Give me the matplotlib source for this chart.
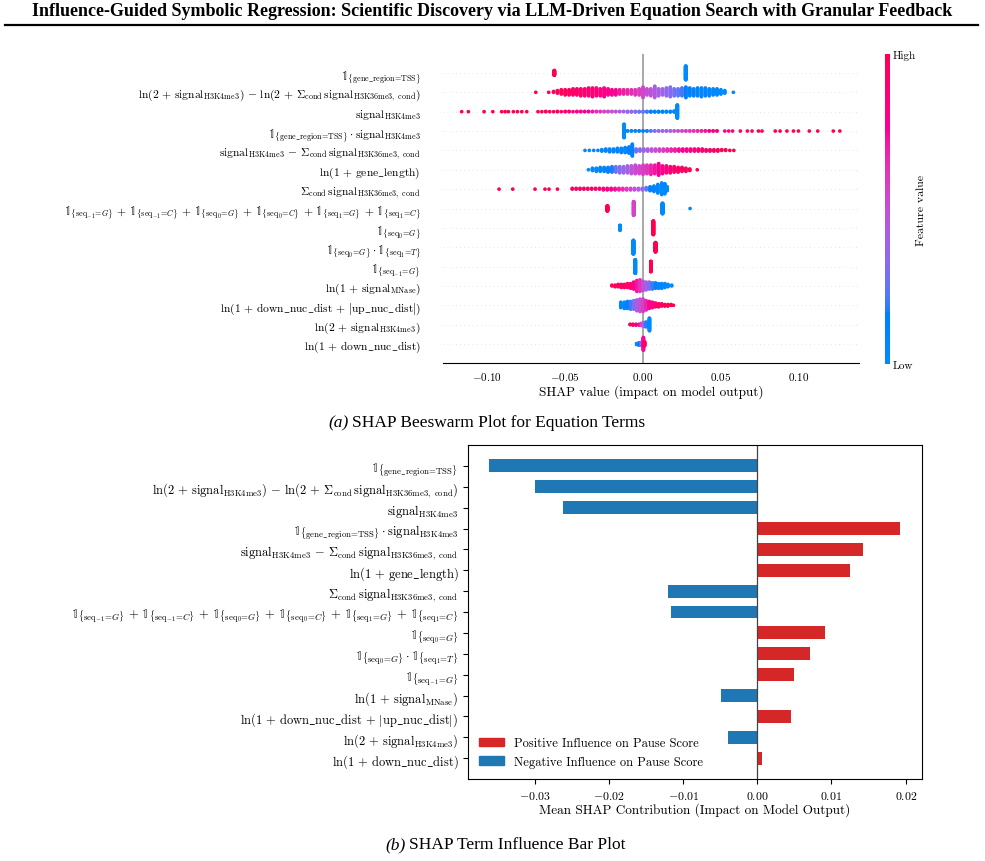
import numpy as np
import matplotlib
matplotlib.use('Agg')
import matplotlib.pyplot as plt
from matplotlib.colors import LinearSegmentedColormap
from matplotlib.lines import Line2D

plt.rcParams['font.family'] = 'serif'
plt.rcParams['font.serif'] = ['cmr10']
plt.rcParams['mathtext.fontset'] = 'cm'
plt.rcParams['axes.formatter.use_mathtext'] = True

# ---- data -------------------------------------------------------------
terms = [
    r'$\mathbb{1}_{\{\mathrm{gene\_region}\!=\!\mathrm{TSS}\}}$',
    r'$\ln(2\,+\,\mathrm{signal}_{\mathrm{H3K4me3}})\,-\,\ln(2\,+\,\Sigma_{\mathrm{cond}}\,\mathrm{signal}_{\mathrm{H3K36me3,\ cond}})$',
    r'$\mathrm{signal}_{\mathrm{H3K4me3}}$',
    r'$\mathbb{1}_{\{\mathrm{gene\_region}\!=\!\mathrm{TSS}\}}\cdot\mathrm{signal}_{\mathrm{H3K4me3}}$',
    r'$\mathrm{signal}_{\mathrm{H3K4me3}}\,-\,\Sigma_{\mathrm{cond}}\,\mathrm{signal}_{\mathrm{H3K36me3,\ cond}}$',
    r'$\ln(1\,+\,\mathrm{gene\_length})$',
    r'$\Sigma_{\mathrm{cond}}\,\mathrm{signal}_{\mathrm{H3K36me3,\ cond}}$',
    r'$\mathbb{1}_{\{\mathrm{seq}_{-1}\!=\!G\}}\,+\,\mathbb{1}_{\{\mathrm{seq}_{-1}\!=\!C\}}\,+\,\mathbb{1}_{\{\mathrm{seq}_0\!=\!G\}}\,+\,\mathbb{1}_{\{\mathrm{seq}_0\!=\!C\}}\,+\,\mathbb{1}_{\{\mathrm{seq}_1\!=\!G\}}\,+\,\mathbb{1}_{\{\mathrm{seq}_1\!=\!C\}}$',
    r'$\mathbb{1}_{\{\mathrm{seq}_0\!=\!G\}}$',
    r'$\mathbb{1}_{\{\mathrm{seq}_0\!=\!G\}}\cdot\mathbb{1}_{\{\mathrm{seq}_1\!=\!T\}}$',
    r'$\mathbb{1}_{\{\mathrm{seq}_{-1}\!=\!G\}}$',
    r'$\ln(1\,+\,\mathrm{signal}_{\mathrm{MNase}})$',
    r'$\ln(1\,+\,\mathrm{down\_nuc\_dist}\,+\,|\mathrm{up\_nuc\_dist}|)$',
    r'$\ln(2\,+\,\mathrm{signal}_{\mathrm{H3K4me3}})$',
    r'$\ln(1\,+\,\mathrm{down\_nuc\_dist})$',
]

# mean SHAP contribution per term (bar plot)
bar_contrib = [-0.0362, -0.0300, -0.0262, 0.0193, 0.0142, 0.0125, -0.0121,
               -0.0117, 0.0091, 0.0071, 0.0049, -0.0049, 0.0046, -0.0039, 0.0006]

# beeswarm rows: (shap value, number of samples, scaled feature value)
swarm_tss = [(-0.0570, 36, 1.0), (0.0274, 100, 0.0)]

swarm_log_ratio = [
    (-0.0689, 1, 1.0), (-0.0606, 1, 0.97),
    (-0.0575, 2, 0.95), (-0.0550, 4, 0.95), (-0.0525, 6, 0.95), (-0.0500, 7, 0.95),
    (-0.0475, 7, 0.94), (-0.0450, 8, 0.93), (-0.0425, 8, 0.92), (-0.0400, 9, 0.91),
    (-0.0375, 9, 0.90), (-0.0350, 10, 0.89), (-0.0325, 11, 0.88), (-0.0300, 10, 0.86),
    (-0.0275, 9, 0.84), (-0.0250, 11, 0.82), (-0.0225, 8, 0.80), (-0.0200, 7, 0.78),
    (-0.0175, 7, 0.75), (-0.0150, 6, 0.72), (-0.0125, 6, 0.70), (-0.0100, 6, 0.68),
    (-0.0075, 6, 0.65), (-0.0050, 7, 0.62), (-0.0025, 8, 0.58), (0.0000, 13, 0.55),
    (0.0025, 8, 0.50), (0.0050, 9, 0.47), (0.0075, 14, 0.44), (0.0100, 9, 0.41),
    (0.0125, 8, 0.38), (0.0150, 10, 0.35), (0.0175, 12, 0.32), (0.0200, 9, 0.28),
    (0.0225, 9, 0.25), (0.0250, 10, 0.20), (0.0275, 13, 0.16), (0.0300, 10, 0.12),
    (0.0325, 9, 0.10), (0.0350, 10, 0.08), (0.0375, 11, 0.06), (0.0400, 10, 0.05),
    (0.0425, 9, 0.04), (0.0450, 8, 0.03), (0.0475, 8, 0.02), (0.0500, 6, 0.02),
    (0.0525, 4, 0.01), (0.0580, 1, 0.0)]

swarm_signal = [
    (-0.1165, 1, 1.0), (-0.1122, 1, 1.0), (-0.1021, 1, 1.0), (-0.0965, 1, 1.0),
    (-0.0908, 1, 1.0), (-0.0886, 1, 1.0), (-0.0865, 1, 1.0), (-0.0833, 1, 1.0),
    (-0.0807, 1, 1.0), (-0.0779, 1, 1.0), (-0.0747, 1, 1.0),
    (-0.0675, 1, 0.97), (-0.0650, 1, 0.96), (-0.0625, 2, 0.95), (-0.0600, 1, 0.95),
    (-0.0575, 1, 0.94), (-0.0550, 2, 0.93), (-0.0525, 1, 0.92), (-0.0500, 2, 0.90),
    (-0.0475, 2, 0.86), (-0.0450, 1, 0.84), (-0.0425, 2, 0.82), (-0.0400, 2, 0.80),
    (-0.0375, 2, 0.78), (-0.0350, 2, 0.76), (-0.0325, 2, 0.72), (-0.0300, 2, 0.66),
    (-0.0275, 2, 0.62), (-0.0250, 2, 0.58), (-0.0225, 2, 0.54), (-0.0200, 2, 0.50),
    (-0.0175, 2, 0.46), (-0.0150, 2, 0.43), (-0.0125, 2, 0.40), (-0.0100, 3, 0.37),
    (-0.0075, 3, 0.34), (-0.0050, 3, 0.31), (-0.0025, 3, 0.28), (0.0000, 3, 0.25),
    (0.0025, 3, 0.20), (0.0050, 3, 0.16), (0.0075, 3, 0.12), (0.0100, 3, 0.10),
    (0.0125, 3, 0.08), (0.0150, 3, 0.06), (0.0175, 3, 0.05), (0.0200, 4, 0.04),
    (0.0220, 50, 0.02)]

swarm_tss_signal = [
    (-0.0122, 60, 0.0),
    (-0.0100, 2, 0.05), (-0.0075, 2, 0.06), (-0.0050, 2, 0.08), (-0.0025, 2, 0.10),
    (0.0000, 2, 0.13), (0.0025, 2, 0.17), (0.0050, 2, 0.22), (0.0075, 2, 0.30),
    (0.0100, 2, 0.33), (0.0125, 2, 0.36), (0.0150, 2, 0.39), (0.0175, 2, 0.42),
    (0.0200, 2, 0.45), (0.0225, 2, 0.50), (0.0250, 2, 0.54), (0.0275, 2, 0.58),
    (0.0300, 2, 0.61), (0.0325, 2, 0.64), (0.0350, 2, 0.67), (0.0375, 2, 0.70),
    (0.0400, 2, 0.73), (0.0425, 2, 0.76), (0.0450, 2, 0.79), (0.0475, 2, 0.82),
    (0.0525, 1, 0.85), (0.0550, 1, 0.87), (0.0575, 1, 0.89), (0.0625, 1, 0.92),
    (0.0670, 1, 0.94), (0.0700, 1, 0.96), (0.0741, 1, 1.0), (0.0764, 1, 1.0),
    (0.0849, 1, 1.0), (0.0880, 1, 1.0), (0.0924, 1, 1.0), (0.0966, 1, 1.0),
    (0.0998, 1, 1.0), (0.1068, 1, 1.0), (0.1122, 1, 1.0), (0.1222, 1, 1.0),
    (0.1264, 1, 1.0)]

swarm_signal_diff = [
    (-0.0373, 1, 0.05), (-0.0345, 1, 0.05), (-0.0317, 1, 0.05), (-0.0290, 1, 0.05),
    (-0.0265, 3, 0.05), (-0.0240, 4, 0.05), (-0.0215, 5, 0.06), (-0.0190, 5, 0.06),
    (-0.0165, 6, 0.07), (-0.0140, 7, 0.08), (-0.0115, 8, 0.09), (-0.0090, 10, 0.10),
    (-0.0069, 18, 0.12),
    (-0.0045, 5, 0.28), (-0.0020, 4, 0.33), (0.0005, 4, 0.38), (0.0030, 4, 0.43),
    (0.0055, 4, 0.48), (0.0080, 4, 0.52), (0.0105, 4, 0.56), (0.0130, 4, 0.60),
    (0.0155, 4, 0.64), (0.0180, 4, 0.68), (0.0205, 4, 0.71), (0.0230, 4, 0.74),
    (0.0255, 4, 0.77), (0.0280, 4, 0.80), (0.0305, 4, 0.83), (0.0330, 4, 0.86),
    (0.0355, 4, 0.88), (0.0380, 4, 0.90), (0.0405, 3, 0.92), (0.0430, 3, 0.93),
    (0.0455, 3, 0.95), (0.0480, 3, 0.96), (0.0505, 2, 0.97), (0.0530, 2, 0.98),
    (0.0557, 1, 1.0), (0.0583, 1, 1.0)]

swarm_gene_length = [
    (-0.0351, 1, 0.03),
    (-0.0325, 4, 0.05), (-0.0300, 5, 0.06), (-0.0275, 6, 0.08), (-0.0250, 6, 0.10),
    (-0.0225, 7, 0.13), (-0.0200, 8, 0.17), (-0.0175, 8, 0.28), (-0.0150, 9, 0.32),
    (-0.0125, 9, 0.36), (-0.0100, 10, 0.40), (-0.0075, 11, 0.48), (-0.0050, 12, 0.52),
    (-0.0025, 11, 0.55), (0.0000, 13, 0.58), (0.0025, 12, 0.61), (0.0050, 13, 0.68),
    (0.0075, 12, 0.72), (0.0100, 16, 0.76), (0.0125, 11, 0.80), (0.0150, 10, 0.84),
    (0.0175, 9, 0.88), (0.0200, 8, 0.91), (0.0225, 7, 0.93), (0.0250, 6, 0.95),
    (0.0275, 5, 0.96), (0.0300, 3, 0.98), (0.0348, 1, 1.0)]

swarm_k36_sum = [
    (-0.0925, 1, 1.0), (-0.0837, 1, 1.0), (-0.0694, 1, 1.0), (-0.0630, 1, 1.0),
    (-0.0604, 1, 1.0), (-0.0550, 1, 1.0),
    (-0.0455, 2, 0.97), (-0.0430, 2, 0.96), (-0.0405, 2, 0.95), (-0.0380, 2, 0.94),
    (-0.0355, 2, 0.93), (-0.0330, 2, 0.92), (-0.0305, 2, 0.90), (-0.0280, 2, 0.88),
    (-0.0255, 3, 0.84), (-0.0230, 3, 0.80), (-0.0205, 3, 0.77), (-0.0180, 3, 0.74),
    (-0.0155, 3, 0.70), (-0.0130, 3, 0.66), (-0.0105, 3, 0.60), (-0.0080, 3, 0.55),
    (-0.0055, 3, 0.50), (-0.0030, 3, 0.42), (-0.0005, 3, 0.35), (0.0020, 4, 0.25),
    (0.0045, 6, 0.15), (0.0070, 8, 0.10), (0.0095, 12, 0.06), (0.0120, 16, 0.04),
    (0.0140, 14, 0.03), (0.0155, 6, 0.02)]

swarm_seq_sum = [(-0.0229, 38, 1.0), (-0.0060, 100, 0.55), (0.0125, 77, 0.02),
                 (0.0302, 1, 0.0)]
swarm_seq0_g = [(-0.0148, 36, 0.0), (0.0066, 100, 1.0)]
swarm_seq0_g_seq1_t = [(-0.0062, 100, 0.0), (0.0080, 69, 1.0)]
swarm_seqm1_g = [(-0.0050, 100, 0.0), (0.0050, 76, 1.0)]

swarm_mnase = [
    (-0.0200, 2, 1.0), (-0.0180, 3, 0.98), (-0.0160, 4, 0.96), (-0.0140, 5, 0.94),
    (-0.0120, 5, 0.93), (-0.0100, 6, 0.91), (-0.0080, 7, 0.86), (-0.0060, 10, 0.80),
    (-0.0040, 15, 0.72), (-0.0020, 16, 0.62), (0.0000, 13, 0.50), (0.0020, 11, 0.40),
    (0.0040, 10, 0.30), (0.0060, 9, 0.20), (0.0080, 8, 0.12), (0.0100, 7, 0.08),
    (0.0120, 7, 0.05), (0.0140, 6, 0.04), (0.0160, 4, 0.03), (0.0184, 2, 0.02)]

swarm_nuc_sum = [
    (-0.0143, 8, 0.05), (-0.0120, 9, 0.08), (-0.0100, 10, 0.12), (-0.0080, 11, 0.20),
    (-0.0060, 12, 0.30), (-0.0040, 15, 0.42), (-0.0020, 17, 0.50), (0.0000, 17, 0.58),
    (0.0020, 13, 0.68), (0.0040, 10, 0.75), (0.0060, 8, 0.82), (0.0080, 6, 0.88),
    (0.0100, 5, 0.92), (0.0120, 4, 0.95), (0.0140, 3, 0.97), (0.0160, 3, 1.0),
    (0.0180, 2, 1.0), (0.0195, 1, 1.0)]

swarm_log_signal = [
    (-0.0083, 2, 1.0), (-0.0065, 3, 0.95), (-0.0045, 3, 0.88), (-0.0025, 3, 0.75),
    (-0.0010, 6, 0.55), (0.0005, 10, 0.38), (0.0020, 12, 0.18), (0.0041, 30, 0.02)]

swarm_down_dist = [
    (-0.0041, 3, 0.05), (-0.0030, 5, 0.08), (-0.0020, 6, 0.15), (-0.0010, 8, 0.35),
    (0.0002, 30, 0.75), (0.0010, 10, 0.95)]

swarm_rows = [swarm_tss, swarm_log_ratio, swarm_signal, swarm_tss_signal,
              swarm_signal_diff, swarm_gene_length, swarm_k36_sum, swarm_seq_sum,
              swarm_seq0_g, swarm_seq0_g_seq1_t, swarm_seqm1_g, swarm_mnase,
              swarm_nuc_sum, swarm_log_signal, swarm_down_dist]


# ---- shap style red/blue colormap (LCh interpolation) ------------------
def lch2rgb(L, C, h):
    a, b = C * np.cos(h), C * np.sin(h)
    fy = (L + 16) / 116
    fx, fz = fy + a / 500, fy - b / 200

    def finv(t):
        return t ** 3 if t ** 3 > 0.008856 else (t - 16 / 116) / 7.787
    X, Y, Z = 0.95047 * finv(fx), finv(fy), 1.08883 * finv(fz)
    rgb = np.array([3.2406 * X - 1.5372 * Y - 0.4986 * Z,
                    -0.9689 * X + 1.8758 * Y + 0.0415 * Z,
                    0.0557 * X - 0.2040 * Y + 1.0570 * Z])
    rgb = np.where(rgb <= 0.0031308, 12.92 * rgb,
                   1.055 * np.abs(rgb) ** (1 / 2.4) - 0.055)
    return np.clip(rgb, 0, 1)


blue_lch = (54., 70., 4.6588)
red_lch = (54., 90., 0.35470565 + 2 * np.pi)
steps = np.linspace(0, 1, 100)
cols = [lch2rgb(*(np.array(blue_lch) + t * (np.array(red_lch) - np.array(blue_lch))))
        for t in steps]
red_blue = LinearSegmentedColormap.from_list('red_blue', list(zip(steps, cols)))


def swarm_offsets(shaps, row_height=0.4):
    # same stacking rule as shap's beeswarm
    quant = np.round(100 * (shaps - shaps.min()) / (shaps.max() - shaps.min() + 1e-8))
    inds = np.argsort(quant, kind='stable')
    ys = np.zeros(len(shaps))
    layer, last = 0, -1
    for ind in inds:
        if quant[ind] != last:
            layer = 0
        ys[ind] = np.ceil(layer / 2) * ((layer % 2) * 2 - 1)
        layer += 1
        last = quant[ind]
    return ys * 0.9 * (row_height / np.max(ys + 1))


W, H = 985, 862
fig = plt.figure(figsize=(W / 100, H / 100), dpi=100)


def fx(px):
    return px / W


def fy(py):
    return 1 - py / H


# title + rule
fig.text(0.5, fy(12), 'Influence-Guided Symbolic Regression: Scientific Discovery via '
         'LLM-Driven Equation Search with Granular Feedback',
         ha='center', va='center', family='Liberation Serif', weight='bold', fontsize=13)
fig.add_artist(Line2D([fx(5), fx(978)], [fy(25.5), fy(25.5)], color='k', lw=1.6))

# ---- (a) beeswarm -----------------------------------------------------
n = len(terms)
ax1 = fig.add_axes([fx(443), fy(364.4), fx(859 - 443), (364.4 - 54.6) / H])
for i, row in enumerate(swarm_rows):
    pos = n - 1 - i
    ax1.axhline(pos, color='#cccccc', lw=0.5, dashes=(1, 5), zorder=-1)
    sv = np.repeat([r[0] for r in row], [r[1] for r in row])
    fv = np.repeat([r[2] for r in row], [r[1] for r in row])
    ys = swarm_offsets(sv)
    ax1.scatter(sv, pos + ys, c=fv, cmap=red_blue, vmin=0, vmax=1, s=7,
                linewidth=0, zorder=3, rasterized=True)
ax1.axvline(0, color='#999999', lw=1.2, zorder=-1)
ax1.set_ylim(-1, n)
ax1.set_xlim(-0.1285, 0.1387)
ax1.set_yticks(range(n))
ax1.set_yticklabels(terms[::-1], fontsize=8.3)
ax1.tick_params('y', length=0, pad=16)
ax1.tick_params('x', length=0, pad=5, labelsize=8)
ax1.set_xticks([-0.10, -0.05, 0.0, 0.05, 0.10])
for s in ['top', 'right', 'left']:
    ax1.spines[s].set_visible(False)
ax1.set_xlabel('SHAP value (impact on model output)', fontsize=9.5, labelpad=1)

cax = fig.add_axes([fx(885), fy(365), fx(5), (365 - 55) / H])
sm = plt.cm.ScalarMappable(cmap=red_blue, norm=plt.Normalize(0, 1))
cb = fig.colorbar(sm, cax=cax, ticks=[0, 1])
cb.set_ticklabels(['Low', 'High'])
cb.ax.tick_params(labelsize=8, length=0, pad=2)
cb.set_label('Feature value', fontsize=8.5, labelpad=0)
cb.outline.set_visible(False)

fig.text(fx(328), fy(423), '(a)', style='italic', family='Liberation Serif',
         fontsize=12.5, va='center', ha='left')
fig.text(fx(352), fy(423), 'SHAP Beeswarm Plot for Equation Terms',
         family='Liberation Serif', fontsize=12.5, va='center', ha='left')

# ---- (b) bar plot -----------------------------------------------------
ax2 = fig.add_axes([fx(468), fy(780), fx(922 - 468), (780 - 446) / H])
colors = ['#d62728' if v > 0 else '#1f77b4' for v in bar_contrib]
ax2.barh(range(n), bar_contrib, height=0.62, color=colors)
ax2.axvline(0, color='#444444', lw=0.9)
ax2.set_yticks(range(n))
ax2.set_yticklabels(terms, fontsize=9)
ax2.set_ylim(15, -1)
ax2.set_xlim(-0.0390, 0.0222)
ax2.set_xticks([-0.03, -0.02, -0.01, 0.0, 0.01, 0.02])
ax2.tick_params('x', labelsize=8.5)
ax2.set_xlabel('Mean SHAP Contribution (Impact on Model Output)', fontsize=9.5, labelpad=1)
ax2.legend(handles=[plt.Rectangle((0, 0), 1, 1, color='#d62728'),
                    plt.Rectangle((0, 0), 1, 1, color='#1f77b4')],
           labels=['Positive Influence on Pause Score', 'Negative Influence on Pause Score'],
           loc='lower left', frameon=False, fontsize=9)

fig.text(fx(385), fy(845), '(b)', style='italic', family='Liberation Serif',
         fontsize=12.5, va='center', ha='left')
fig.text(fx(409), fy(845), 'SHAP Term Influence Bar Plot',
         family='Liberation Serif', fontsize=12.5, va='center', ha='left')

fig.savefig('out.png', dpi=100)
